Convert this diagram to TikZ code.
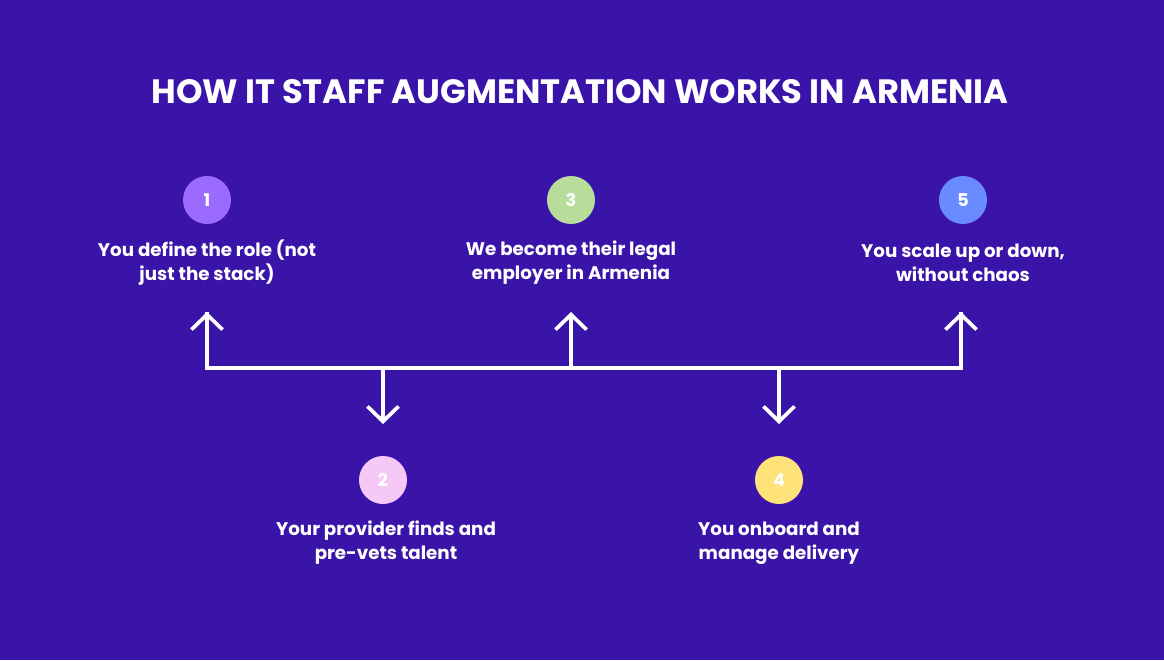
\documentclass[tikz,border=0pt]{standalone}
\usepackage{fontspec}
\setmainfont{Poppins}
\usetikzlibrary{arrows.meta}
\definecolor{bg}{HTML}{3A14A8}
\definecolor{cA}{HTML}{9B6BFF}
\definecolor{cB}{HTML}{F5C8F5}
\definecolor{cC}{HTML}{B8DD9A}
\definecolor{cD}{HTML}{FFE17A}
\definecolor{cE}{HTML}{6A8BFF}
\begin{document}
\begin{tikzpicture}[x=0.02cm,y=-0.02cm,
  num/.style={circle,minimum size=0.96cm,inner sep=0,text=white,font=\fontsize{10}{12}\selectfont\bfseries},
  lbl/.style={text=white,align=center,font=\fontsize{10.4}{13.6}\selectfont\bfseries},
  conn/.style={white,line width=2.1pt},
  tip/.style={-{Straight Barb[length=0.3cm,width=0.62cm,line width=2.1pt]}}]
\fill[bg] (0,0) rectangle (1164,660);
\useasboundingbox (0,0) rectangle (1164,660);
\node[text=white,font=\fontsize{19.2}{22}\selectfont\bfseries] (title) at (580,92) {HOW IT STAFF AUGMENTATION WORKS IN ARMENIA};
\node[num,fill=cA] (n1) at (207,200) {1};
\node[num,fill=cC] (n3) at (571,200) {3};
\node[num,fill=cE] (n5) at (963,200) {5};
\node[num,fill=cB] (n2) at (383,480) {2};
\node[num,fill=cD] (n4) at (779,480) {4};
\node[lbl] (l1) at (207,263) {You define the role (not\\just the stack)};
\node[lbl] (l3) at (571,263) {We become their legal\\employer in Armenia};
\node[lbl] (l5) at (963,263) {You scale up or down,\\without chaos};
\node[lbl] (l2) at (386,543) {Your provider finds and\\pre-vets talent};
\node[lbl] (l4) at (779,543) {You onboard and\\manage delivery};
\coordinate (h1) at (207,368);
\coordinate (h3) at (571,368);
\coordinate (h5) at (961,368);
\coordinate (h2) at (383,368);
\coordinate (h4) at (779,368);
\coordinate (a1) at (207,312);
\coordinate (a3) at (571,312);
\coordinate (a5) at (961,312);
\coordinate (a2) at (383,424);
\coordinate (a4) at (779,424);
\draw[conn,line join=miter] (a1) -- (h1) -- (h5) -- (a5);
\draw[conn,tip] (h1) -- (a1);
\draw[conn,tip] (h5) -- (a5);
\draw[conn,tip] (h3) -- (a3);
\draw[conn,tip] (h2) -- (a2);
\draw[conn,tip] (h4) -- (a4);
\end{tikzpicture}
\end{document}
